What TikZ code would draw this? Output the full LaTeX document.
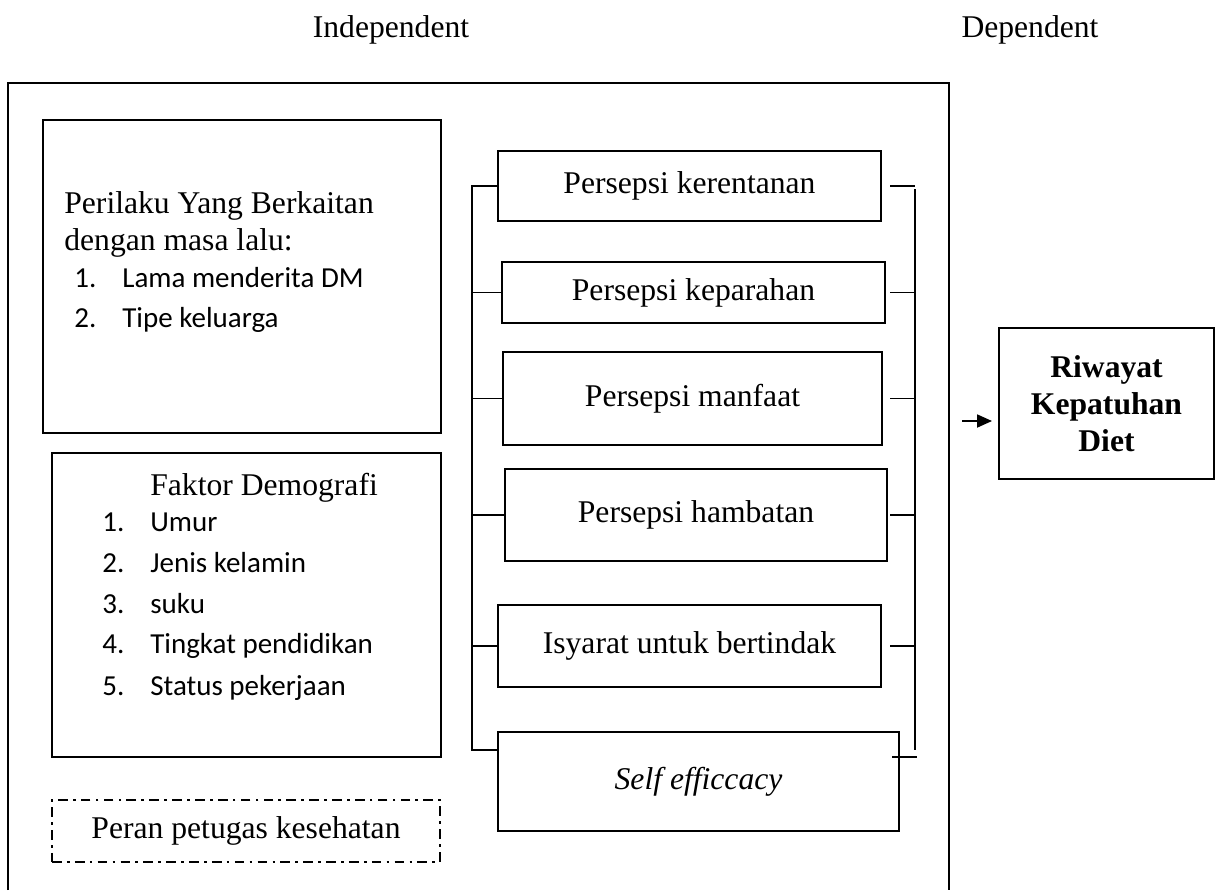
\documentclass[tikz,border=0pt]{standalone}
\usepackage{fontspec}
\setmainfont{Liberation Serif}
\newfontfamily\calibri{Carlito}
\usetikzlibrary{arrows.meta}

\begin{document}
\begin{tikzpicture}[x=0.02cm, y=-0.02cm, font=\fontsize{18}{21}\selectfont,
	box/.style={draw, line width=1.2pt, inner sep=0pt},
	link/.style={line width=0.7pt},
	item/.style={anchor=base west, inner sep=0pt, font=\calibri\fontsize{16.5}{20}\selectfont},
	txt/.style={anchor=base west, inner sep=0pt}]
	\useasboundingbox (0,0) rectangle (1221,890);
	
	\node (indep) at (391,30) {Independent};
	\node (dep) at (1030,30) {Dependent};
	
	\draw[line width=0.8pt] (8,890) -- (8,83) -- (949,83) -- (949,890);
	
	\node[box, minimum width=7.96cm, minimum height=6.26cm] (perilaku) at (242,276.5) {};
	\node[txt] (per1) at (64,213) {Perilaku Yang Berkaitan};
	\node[txt] (per2) at (64,250) {dengan masa lalu:};
	\node[item] (pn1) at (74,287) {1.};
	\node[item] (pi1) at (122,287) {Lama menderita DM};
	\node[item] (pn2) at (74,327) {2.};
	\node[item] (pi2) at (122,327) {Tipe keluarga};
	
	\node[box, minimum width=7.78cm, minimum height=6.08cm] (demografi) at (246.5,605) {};
	\node[txt] (dem) at (150,495) {Faktor Demografi};
	\node[item] (dn1) at (102,531) {1.};
	\node[item] (di1) at (150,531) {Umur};
	\node[item] (dn2) at (102,572) {2.};
	\node[item] (di2) at (150,572) {Jenis kelamin};
	\node[item] (dn3) at (102,613) {3.};
	\node[item] (di3) at (150,613) {suku};
	\node[item] (dn4) at (102,653) {4.};
	\node[item] (di4) at (150,653) {Tingkat pendidikan};
	\node[item] (dn5) at (102,695) {5.};
	\node[item] (di5) at (150,695) {Status pekerjaan};
	
	\node[box, dash pattern=on 5.5pt off 3pt on 1.5pt off 3pt, minimum width=7.76cm, minimum height=1.24cm] (peran) at (246,831) {Peran petugas kesehatan};
	
	\node[box, minimum width=7.66cm, minimum height=1.40cm] (kerentanan) at (689.5,186) {Persepsi kerentanan};
	\node[box, minimum width=7.66cm, minimum height=1.22cm] (keparahan) at (693.5,292.5) {Persepsi keparahan};
	\node[box, minimum width=7.58cm, minimum height=1.86cm] (manfaat) at (692.5,398.5) {Persepsi manfaat};
	\node[box, minimum width=7.64cm, minimum height=1.84cm] (hambatan) at (696,515) {Persepsi hambatan};
	\node[box, minimum width=7.66cm, minimum height=1.64cm] (isyarat) at (689.5,646) {Isyarat untuk bertindak};
	\node[box, minimum width=8.02cm, minimum height=1.98cm] (efficacy) at (698.5,781.5) {\textit{Self efficcacy}};
	
	\node[box, minimum width=4.30cm, minimum height=3.02cm, align=center, font=\bfseries\fontsize{18}{21}\selectfont] (riwayat) at (1106.5,403.5) {Riwayat\\Kepatuhan\\Diet};
	
	\coordinate (lbusT) at (472,186);
	\coordinate (lbusB) at (472,750);
	\draw[link] (kerentanan.west) -- (lbusT) -- (lbusB) -- (lbusB -| efficacy.west);
	\draw[link] (keparahan.west) -- (keparahan.west -| lbusT);
	\draw[link] (manfaat.west) -- (manfaat.west -| lbusT);
	\draw[link] (hambatan.west) -- (hambatan.west -| lbusT);
	\draw[link] (isyarat.west) -- (isyarat.west -| lbusT);
	
	\coordinate (rbusT) at (915,189);
	\coordinate (rbusB) at (915,750);
	\coordinate (rstub) at (890,0);
	\draw[link] (rbusT) -- (rbusB);
	\draw[link] (kerentanan.east -| rstub) -- (kerentanan.east -| rbusT);
	\draw[link] (keparahan.east -| rstub) -- (keparahan.east -| rbusT);
	\draw[link] (manfaat.east -| rstub) -- (manfaat.east -| rbusT);
	\draw[link] (hambatan.east -| rstub) -- (hambatan.east -| rbusT);
	\draw[link] (isyarat.east -| rstub) -- (isyarat.east -| rbusT);
	\coordinate (sixstub) at (892,757);
	\draw[link] (sixstub) -- ++(25,0);
	
	\coordinate (arrS) at (962,421);
	\draw[link, shorten >=0.12cm, -{Triangle[length=8.5pt,width=7.5pt]}] (arrS) -- (arrS -| riwayat.west);
\end{tikzpicture}
\end{document}
